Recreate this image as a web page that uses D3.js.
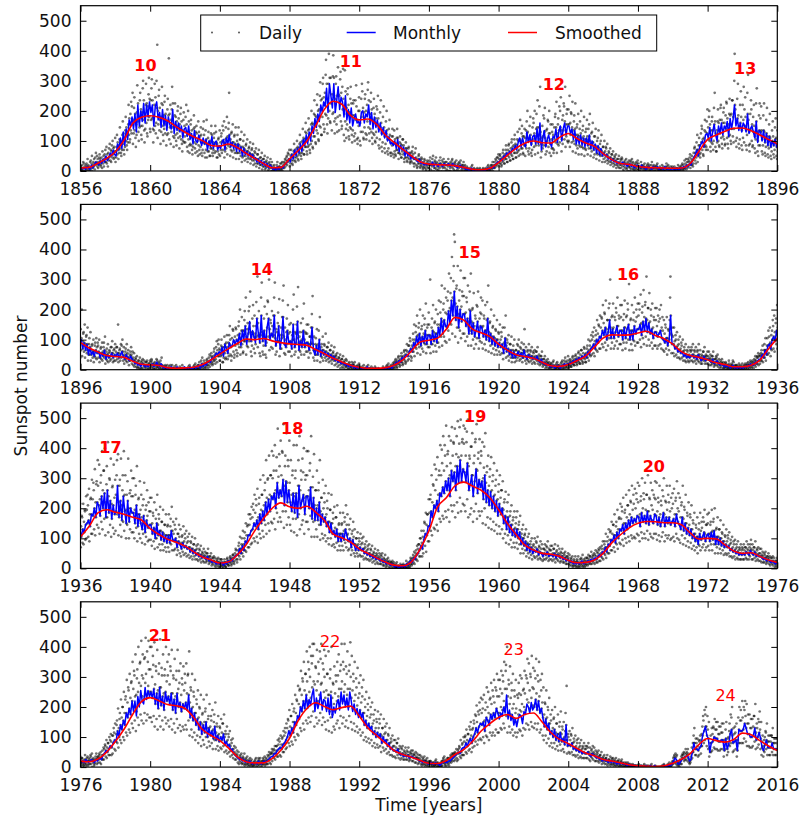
<!DOCTYPE html>
<html>
<head>
<meta charset="utf-8">
<script src="https://cdn.jsdelivr.net/npm/d3@7"></script>
<style>
  body { margin: 0; background: #fff; }
  text { font-family: "DejaVu Sans", sans-serif; }
</style>
</head>
<body>
<svg id="chart" width="802" height="827"></svg>
<script>
// ---- data -------------------------------------------------------------
const FIRST_YEAR = 1856;
const PANEL_STARTS = [1856, 1896, 1936, 1976];
const PANEL_SPAN = 40;
const X_TICK_STEP = 4;
const Y_MAX = 550;
const Y_TICKS = [0, 100, 200, 300, 400, 500];

// Solar cycle numbers and where their labels sit (year, sunspot number)
const CYCLES = [10, 11, 12, 13, 14, 15, 16, 17, 18, 19, 20, 21, 22, 23, 24];
const CYCLE_YEAR = [1859.73, 1871.52, 1883.17, 1894.16, 1906.41, 1918.34, 1927.43, 1937.72,
                    1948.15, 1958.66, 1968.91, 1980.56, 1990.34, 2000.87, 2013.03];
const CYCLE_VALUE = [352, 363, 288, 341, 334, 389, 316, 403, 465, 505, 338, 437, 418, 392, 237];

// 13-month smoothed sunspot number, every half year from 1856.0 to 2016.0
const SMOOTHED_STEP = 0.5;
const SMOOTHED = [
  10,12, 26,42, 64,103, 159,179, 184,179, 167,147, 129,114, 101,85, 83,90, 78,59,
  42,25, 11,12, 40,68, 100,150, 205,232, 222,185, 170,173, 155,120, 95,72, 50,31,
  23,21, 20,18, 12,6, 4,9, 28,52, 75,92, 100,94, 93,112, 125,108, 93,82,
  58,38, 25,22, 15,12, 11,10, 9,10, 25,65, 105,120, 132,142, 143,134, 120,105,
  90,72, 59,47, 44,41, 28,18, 16,14, 7,5, 6,8, 17,33, 52,70, 87,102,
  100,104, 96,90, 86,84, 81,67, 53,38, 26,15, 8,5, 5,7, 15,33, 62,92,
  98,105, 135,174, 165,135, 123,110, 85,65, 50,44, 38,25, 13,11, 17,30, 45,75,
  105,116, 115,116, 122,128, 114,103, 85,60, 47,41, 33,23, 17,10, 10,15, 32,70,
  105,140, 185,195, 187,180, 170,161, 132,113, 97,87, 74,55, 38,28, 18,22, 45,78,
  125,165, 200,218, 205,200, 207,187, 160,115, 102,88, 65,50, 35,21, 11,9, 22,65,
  125,205, 235,275, 287,274, 260,235, 195,150, 113,78, 61,50, 47,40, 27,19, 20,28,
  50,85, 112,135, 150,156, 155,152, 152,145, 118,98, 100,98, 78,58, 50,52, 40,28,
  20,18, 27,50, 85,126, 176,218, 231,221, 208,204, 195,165, 125,105, 88,63, 35,18,
  14,14, 28,56, 96,155, 195,214, 202,191, 198,203, 170,130, 105,80, 55,42, 33,22,
  13,12, 22,42, 58,85, 120,145, 165,175, 162,175, 180,150, 115,92, 78,62, 47,38,
  25,20, 14,8, 4,3, 2,4, 13,26, 45,75, 95,88, 83,92, 113,108, 88,70,
  55
];

// Monthly means and sampled daily values: one string per year from 1856,
// two-digit codes, sunspot number = code * CODE_UNIT.
// MONTHLY holds 12 codes a year; DAILY holds 48 sampled days a year.
const CODE_UNIT = 5;
const MONTHLY = [
  "010202010302010402040605","040705080610070912101411","101814221526172821343036","283826443040334532443646",
  "394430434634392941303727","363128412533273226302228","292330212518272019242017","221821142016231519201417",
  "151921142218241619151813","181316101511131012091108","090608050704060305020403","010200030102030204050608",
  "061108141015121813211724","182620302535293833443946","435539585042583947564149","463650344132423035383233",
  "303940323836443139283629","342632242922272023181917","201521131714161014101208","100809070608050604050405",
  "050406030504030504030504","040503040503040203040203","020102000102000100010001","000100010201020302040506",
  "060807100912111312151417","141922162218162619241723","241828183214222716212419","162322281926302028322430",
  "302528212718231824172216","221724152014181217111510","121011080907080607050605","050604050304050304020304",
  "030204020301020302010302","020301020201030201020102","010201020102020302040305","040709111410161820162425",
  "222920263124203025322430","283323352834443035273226","323026382528302622331927","262027192517231620172116",
  "201418131710151012091311","120811091307100809110810","091108101209071008060907","060405030402040302030203",
  "030402030503020402010201","000102010001020001010002","010001020001020102030104","020403050605080709111012",
  "101509171411181516201720","182416262029172432192622","183424183619261628342024","223616192914213517152618",
  "191430151832131915261518","181317281310161020091310","120911081007090607050604","050403040203020301020102",
  "010001000102000100010001","000100000100010201020103","030504060508070910091214","121815221724162218261723",
  "231726192418282334243329","283931463652334228403237","372934243924312226322129","282226203419241722162015",
  "181517112112141013081208","101209110813090710080907","080709060507040503040302","020301020302010302040304",
  "030504060507060807090810","081210141517142018222126","232820253321272125292226","262028212730202620292427",
  "273023322634253124272125","252224262120182116203617","171415121311120910080908","091008090710080607090607",
  "070605070405060403040302","030203010203010201020102","010202030204030305040607","071008131016171420221926",
  "212624293032283635403444","423548405034523745334236","385534453248383045314037","373042283630263524322729",
  "292327203022251924182217","221725191820141816131714","151314111310120910080907","080706080506040504030403",
  "030402040305040605070809","091310151218172222252630","283226363038324436463848","465040574752485942584452",
  "443850375034554045493648","484054334732403244293631","342831243023252126182318","231926221820141916121512",
  "141213101109100809070806","070605060405030403020302","010201000201020103020405","040706091012151319232228",
  "283834424045385048545058","526048655864526857725866","645870525662485866505954","584662445242514048384535",
  "433640303526342429222621","262024162015181216111410","121113091110081009110809","090810070908070806070506",
  "050405030403040304050304","040504060506070608090811","101411161519182217242026","252923302632283430333135",
  "342837313530382935323036","352934283237283430342931","332836312926342530232722","262023182116231921241822",
  "231824192516211620151814","161415121311121011091009","100911100912100911080908","080706070506050405040304",
  "030403050403040504030504","050605080911101214131618","172420282531283633393544","374434474051444253455147",
  "504652424939534147385044","474249384536494043374239","433848333931362832253022","282330202621241927182117",
  "201822151714151112090807","060506040503040304030203","030204030203040304050607","070909111213121516182024",
  "212623302834324037443948","394541485237463943503845","443746354833403642453850","424840463850443742353933",
  "383336283126292527222420","232022162017181416121311","111012090809070807080607","070606050504040304030302",
  "020302020302020102030403","030404050607080910091213","131614171916202226232729","283024333128353236333936",
  "323634403648323831352832","273235342937354240364338","404538443639332732252922","242025182217231719152814",
  "151416121311121011091009","091008070908070607050604","050405030403040303020302","030202020102010101010100",
  "010001000001000001000001","000000000001010001010102","040605020204050607070704","051016121211131421242721",
  "191016172019191717181811","191215222516171811252424","252926222220202126182023","191311151813131316121212"
];
const DAILY = [
  "000301000401000602050003000204010500030801040200030006010702051000040206030805010904120605100308",
  "020604091105080304090602130705100308110614090616051108031207150918100714061317092011150816091322",
  "061309162411191408171221291520121019142433182514112216273620291714261931442435192138274625433152",
  "183425424927382216312439573345262036294752304124213930556034472719372844583245252343345162364828",
  "264734556135472819362744583049253260428422403150542742341836264556304424203728465025383117332441",
  "482537752138294418342641562945231630223745243620173325404322352715312338422133181327203439193023",
  "193626443116241340213317122518313417271411221628371929151226183025132010331726141123162924121910",
  "142819332412180927142134091813222613191020101525301524121019142225121830132619091809132122111627",
  "101914232512203014271933091813212915223611231728325224161021142526131931091914232412182908171220",
  "241218290817122121101626061309162010152407141017180813210613091516081219051108141507111804100713",
  "051208150308051111050814020604090904071201050308080306100104020607030509000301050602040800040206",
  "000200030104000200010002040106020002010303000501020501060003020406020508030705091004071206110814",
  "030805101407110504100713180914070612091520101608071511182412191008161220281422111121162632162513",
  "112216273517281412251831402032161531233847233719183627445125402120413050592947242448365862314926",
  "285238647437583125483558784062333262458627513863773962332548355863315026366951822750376166335228",
  "305641684824382067335328224231515527442321392948562845241937274547233720254734574321341822403049",
  "402032172648365853264222213929485125402124443354592947252038284652264122183425424824382019352643",
  "224131503517281521392947321625131936274329152312183325402713211115282134241219101223172823111809",
  "271321111018142228142212081612192311180909171321211117080612091519091507061209151608120605100712",
  "061309161105080305120815090407020308051011050803020704090803050102060308070204000105030706020400",
  "020704090601040003080510040002060702050901060300050103000702050900050307040002060803050002060400",
  "060104000308050004000206000503070802050001040006050003070003010405000206000503070300010400040206",
  "000301040002000103000200000001000200000100030104000001000200000100000100000200010000000102000000",
  "000001000002000100000001020001000003010402000100030002040104020600030204060204080307050904090611",
  "030805101105080304090612140710050511081417081206061410171809130707151119211016080817122124121809",
  "091712212613201014282134112015253015231211231728221017271533254026132011153022362412181014292135",
  "321625401123172838192947122417294321562609181322301523371735264222111727132820343316254012251831",
  "102115263115241214292136381929461225183135172743194029492713213418372745432133561631233841203119",
  "412031501632243938192946132720333718284512241729311524381123172833162540112216273015233610211526",
  "142821342311172815312338201015251326193219091423112317281608122011221627150711181020142413061016",
  "160812200613091615071118051007131206091504090611110508130308051009040711020604080803051002060408",
  "020704090803050100060305070205080104020600050307030002060701040805020601000301050400020601050307",
  "010503000300020106020403000301040200050100020003010402050003010400000201040006020003010402000003",
  "000301040205000100020001030001000201040002000300010000020003050101030004000200010003000100020300",
  "000200010300010000020001020004010000030102000301040205010004020107020503080104060208030607040911",
  "020604081004070305120915160712050919142406141017221117091225193028142111102216273417261416332541",
  "142921364020311613271933361827142042315233162513132719334120321716342542442234181532233942213217",
  "183728464522351815312338482437201838284747233619286078444120321622483558371829152144325336172714",
  "442234561941304936172714245238643417261318382847412031161736264430152312214533552613201017372745",
  "173526432713211117372745261219101634254223111709153123382210160813272033231117091429213522101608",
  "271321400919142425121830081713222311172806131017211015250613101617081220051209161808132107151118",
  "160812200511081415071118061209151808132204100712140610170511081312060915071511191105081306141017",
  "061209151507113005110813140610170816122012060915041007121406101705110813080306100612091510040712",
  "080306110206040807020509010402060601040800030105060104070004020603000205010503060300010400040206",
  "010503070602040001030004050001030307020601040205000301040601030800030002000100020003010200010003",
  "000100000200000301000000030001000100000200000003000100000001000000020000000100000300010000000100",
  "000100000000010000020001030001000000010000010002000300010401000200010003000301050100020006020408",
  "010300040602040100040206070305010308051002060409110508030409061214061004071511190513091720091406",
  "061309162010150505120815221117070818132315071118092317292010150609211627261219081022162827132009",
  "112317293215244010211526351726111226193339192948102216273115243919423152251219091634254329142236",
  "112417294522346215312339241118092348365825121910163426422110160818372846452234601327203331152439",
  "291422362348365821101627122519313819294709181423281421352346355622111728102015253417264312241830",
  "122519311809142320403050201015251224183042213255081713222512193110201525341726441020152524121830",
  "241218300817132222111728183728491708132206131017211016270613101726132035051209151708132206131017",
  "160812240612091515071118051008131306101604090711120609150308061009040711020605080803061001050407",
  "070204090105030604000207020603000301000405000203010302050001030400030105010002000002000300020104",
  "000200000100000002000000030001000000010002000000030100000001000000020000000100000000000200010000",
  "000000000100000000000000000000000002000001000000010002000300010204000100000201030000020004010305",
  "010402060703050102060408090406020307050911050803040907121306100405131017120609160716122119091406",
  "081612202412183009201525291422361123172831152440102116272914223612241830341726441123172830152338",
  "301523601122172834172643122519313216244012241830371828461530233845223456163224404422335419382948",
  "183728465226396420413151613046752448365969905285224433545628426918372846532640662142325249243761",
  "492437611938294845223456163224405226396416322440412031511429223634172643214232522814213419382948",
  "371828461429223634172643132620334522345612251931321624401122172829142236102116272613203310201525",
  "241218301020152522111728071411182814213608161220180914230613101717081322051008131608122005100813",
  "130610170816122012060915071411181105081308171327120609150409071213061017051008131206091504090712",
  "110508130409071212060915040806100703050904090712050204070307050904010306020504070401030501030204",
  "010402000205030600020001030001040205010302000301000201040005020600030104010603080205010302060409",
  "010402060703050202060408090406030307050910050703040806111205080404100713130609040511081514071005",
  "051108141608122006131016190914231020152522111728091914232613203312241830291422361428213534172643",
  "153123383718284613272033331625412144336028142135183627442814213516332541381929481429223634172643",
  "173526432613203318372846281421351836274440203057132620333417264313262033381929481632244035182744",
  "183627444020305015312338422132531735264345223462163325414120315116322440361827441428213533162541",
  "163325412914223616322440341726431428213526132033122418302814213510211627261320334862362411231728",
  "221117280919142320101525081612201708132207141118160812200612091513061017051008131206091505100813",
  "061209151306101705100813120609150409071213061017051008130804061004090712120609150408061009040712",
  "090407120308061007030509040907120502040703070509080306100205040704010306020504070401030501030204",
  "010502040300020103010604000201030200040103060105000201030002030001030000020104000201030001020004",
  "000201000302000401030002040103050003010402060305010402060305010407030609020604080904081103090610",
  "040906111306101605100813170813210613101621101626112217281809142313262033291422361225193134172643",
  "142821353417264316312439381929482039304942213253183628464723365923463557522640662244345658294472",
  "552742692346355762314878265240656533508022443456683452842448376059294573214333545527426923473659",
  "254938627236557622443455592945732142325262314878254938623920304929584573402031502652406548243760",
  "482437602039304955274268183628464723365820393049341726422346355731162439214232523518274419382947",
  "381929471530233735182744132620333920304914292236331625411225193131162439122318292914223611221728",
  "291422361122172833162541122519312312182913262033180914231223182921101626081713212211172809181423",
  "201015250817132118091423071411181708132106131016160812200612091513061016051008131206091504090711",
  "100508130409071108040610051008130703050804080610050204070307050805020407010403060502040701040306",
  "010402060602040100030204060204010104030607030502020504070804060203070509090407030510081312060904",
  "061209151708132106131016201015250816122024121830112217282914223614292236331625411734264339203049",
  "183728464221325317342643472336592039304949253862214232525729447223473659603046752549386262314878",
  "306046756533508226524065743757933161477668345285316248787738599627554268753858902957447268345285",
  "572944722549386265335082244837606533508222443455723655882652406559294573326449802347365962314878",
  "623148782652406570355488214333546131477621423252522640652142325257294472193829474723365920403150",
  "442234551836284540203150163124393920304915302337331625411427213434172642122318293015233712231829",
  "301523371225193134172642142922362312182913262033180914231225193121101626081612202010152408161220",
  "180914230816122017081321061310161407111806120915130610160510081312060915040907111005081303080610",
  "090407120308061007030509030806100502040702060509040103060205040704010305000302040401030500030204",
  "000201000301000400010002000001000103000200000201000302000100020001050003000201040300020105070306",
  "020503070904071103080610120609150513101616081220082015251708132110251931301523371129223636182846",
  "183728464925386222443456552742692652406659294574254938626533508231624879703554883365508275385895",
  "346852767839608831624870854265943875588483426493346852768844689837745783944772993875588486436695",
  "834264933875588491467099346852757336568140816290623148703875588486436696336550737738598635705478",
  "753858843060466781406290295744646834527527554261663351742652405862314870254938555929456523463551",
  "562843622347365252264058203930444623355117342638442234491631243538192942142922323417263814272130",
  "341726381326202931162435102116232613202910201522231218260816121721101623071411161809142006131015",
  "160812200714111817081321061209151407111806131016100508130613101612060915071411181005081306120915",
  "120609150510081313061016040907111206091505100813090407110510081308040610040907110703050803080610",
  "070305090205040706020408010402060502040801040206050104080103020604010307060204090104020605010307",
  "020503070702050903060408080305110307050908040610030906120804061104100813120509140510081315071118",
  "061310161809142307141118211016261019152425121931122318292914223611221728311624391326203334172643",
  "163325413819294715302337392030491734264242213252183628454422345520393049432133532040315046233557",
  "442234551836284548243760204031504623355720393049492538621938294746233557214232523920304923473658",
  "462335571938294744223455183628454221325224483760361828452244345539203049224434553819294720403150",
  "432133531836284547233658204031503819294717342642442234551633254139203049153023373518274414292236",
  "341726421326203230152337122318292714213410211626301523371225193127142134163124392312182914292236",
  "301523371223182931162439122519313316254010211626271421341021162626132032102015242312182909181422",
  "211016260918142220101524081612191708132107141118160812190613101614071118061209141306101606120914",
  "130610160612091414071118061310161206091408161219130610160612091414071118051008131206091405100813",
  "100508130409071108040610040907110703050804080610070305080205040707030508020504070401030502050407",
  "010503060602040103010502080305010206040701040205060204080702050900050306040102050307050905020607",
  "030705090803061002060508110508130512091514071118061310161608122008181422170813210921162623121829",
  "112217283116243913262032361828451633254040203150183628454723365821433353512539622346355657294470",
  "265240646131477524483759653350802856436970355484316147755929457236735686623148773570548465335080",
  "653350803060467468345283275542676432497825513962693453852753416661314775254938616533508029574470",
  "613147752755426764324978254938615929457223473658643249782652406456284369244837595527426725513962",
  "562843692549386162314877214333535125396220403150472336581836284542213251163325403920304814292235",
  "361828451530233739203048132620323417264214272134311624381225193035182743122318292714213411221727",
  "261320321223182929142235102015242211172709181422201015240714111816081219061209141005081305090711",
  "080306100206040708030609020503070602050901040206050204070103020504010306010402050200010301030204",
  "010503060200030104020605010402060300020401040206050204070104020605020408020705100803060902091012",
  "040907111206091405110914140711180715121917081321071512192010152410211626231218291326203231162438",
  "142721343417264215302337392030481836284544223454214232515226406424483759572944702551396262314877",
  "572944703365508060304674346953827437578227554267663351782957447062314877367255825628436933655078",
  "603046742551396262314877244837596533508023463556552742672549386157294470316147755226406434685282",
  "572944703365508255274267316248775226406434685283603046742551396257294470244837595327416623463556",
  "492538612143335347233658183628454020315017342642381929461633254035182743142922353116243813262032",
  "301523371326203229142235102116262613203211221727231218290918142221101626081612191708132107141118",
  "140711180613101616081219061209141005081306120914090507110510081309050711051008130804061005090711",
  "090407110408060908030610030706090602050803060408050204070104020605020407010402050401030601030204",
  "000302040401030200020103030001020104020501030002030001020001020003000104010403060503070201040305",
  "010403060602050103060408070305090408060909040710050908120604091105120914130710180610081516081220",
  "081713202110162509181422221117271225193021101625132620312914223517342641301523371835274338192946",
  "183628453920304816312438432133532040315036182845234635564221325123473658432133532551396247233658",
  "234736585226406425493861572944702652406468345280234736585527426723463556512539622142325147233658",
  "392030482346355649253861244837594221325126524064492538612959457256284369255139626030467427534166",
  "522640642959457249253861295744704723365825513962432133531835274342213251163325403819294614292235",
  "311624381326203233162540122318292914223511221727301523371122172725121930102015243618285409181422",
  "201015240918142221101626081612191708132107141118160812190613101614071118061209141306101606120914",
  "120609140613101610050813040907111206091405100813090407110408061009040711030705080804061002050406",
  "070305080205040606020408010403050502040701040206050204060103020504010306010302040401030500020103",
  "040103050103000202000301000201030200010003000102000100020001000100020001000100000100010000000100",
  "010002000000010000010000000000010002000000000100000000010000000000000100000200000000000000000001",
  "000000000000000000000000000000000000010000010002000100000000000001000200000103000100020001030204",
  "020604070803060902070408010302040102000305020407020806090806100409050712050910080412060903050204",
  "030705091306101610211626160812190816121914071118081713211809142214272134311624381835274027142134",
  "251219300713101621101626112217272613203212251930251219301122172722111727122318292312182907141118",
  "122519301608121910201524291422351633254021101626112217272312182907141118331625401631243831162444",
  "331625401938294434172642142922352914223513262032261320321427213434172642122318292613203215302337",
  "251219300817132114071118102015242312182908171321170813210817132121101626081612191608121908161219"
];

// ---- layout -----------------------------------------------------------
const W = 802, H = 827;
const plotLeft = 80.5, plotRight = 777.3, plotH = 165.3;
const panelTop = i => 5.7 + i * 198.7;
const FONT = 17;

const svg = d3.select("#chart");
svg.append("rect").attr("width", W).attr("height", H).attr("fill", "#fff");

const decode = s => d3.range(0, s.length - 1, 2).map(i => +s.slice(i, i + 2) * CODE_UNIT);

// year strings -> timed points
function expand(rows) {
  const pts = [];
  rows.forEach((s, yi) => {
    const vals = decode(s);
    vals.forEach((v, k) => pts.push({ t: FIRST_YEAR + yi + (k + 0.5) / vals.length, v }));
  });
  return pts;
}
const dailyPts = expand(DAILY);
const monthlyPts = expand(MONTHLY);
const smoothPts = SMOOTHED.map((v, i) => ({ t: FIRST_YEAR + i * SMOOTHED_STEP, v }));

PANEL_STARTS.forEach((start, pi) => {
  const end = start + PANEL_SPAN;
  const top = panelTop(pi), bottom = top + plotH;
  const x = d3.scaleLinear().domain([start, end]).range([plotLeft, plotRight]);
  const y = d3.scaleLinear().domain([0, Y_MAX]).range([bottom, top]);
  const g = svg.append("g");

  const clipId = "clip" + pi;
  svg.append("clipPath").attr("id", clipId)
    .append("rect").attr("x", plotLeft).attr("y", top)
    .attr("width", plotRight - plotLeft).attr("height", plotH);
  const plot = g.append("g").attr("clip-path", `url(#${clipId})`);

  const inRange = (pad) => d => d.t >= start - pad && d.t <= end + pad;

  // daily values
  plot.append("g").selectAll("circle")
    .data(dailyPts.filter(inRange(0.1)))
    .join("circle")
    .attr("cx", d => x(d.t)).attr("cy", d => y(d.v))
    .attr("r", 1.35).attr("fill", "#000").attr("fill-opacity", 0.55);

  // monthly means
  plot.append("path")
    .datum(monthlyPts.filter(inRange(0.2)))
    .attr("fill", "none").attr("stroke", "#0000ff").attr("stroke-width", 1.5)
    .attr("stroke-linejoin", "round")
    .attr("d", d3.line().x(d => x(d.t)).y(d => y(d.v)));

  // smoothed
  plot.append("path")
    .datum(smoothPts.filter(inRange(0.6)))
    .attr("fill", "none").attr("stroke", "#ff0000").attr("stroke-width", 1.6)
    .attr("d", d3.line().curve(d3.curveMonotoneX).x(d => x(d.t)).y(d => y(d.v)));

  // axes (ticks point inward on all four sides)
  const xTicks = d3.range(start, end + 1, X_TICK_STEP);
  const styleAxis = sel => {
    sel.select(".domain").remove();
    sel.selectAll(".tick line").attr("stroke", "#000").attr("stroke-width", 1);
    sel.selectAll(".tick text").attr("fill", "#111").style("font-size", FONT + "px")
      .style("font-family", "DejaVu Sans, sans-serif");
  };
  g.append("g").attr("transform", `translate(0,${bottom})`)
    .call(d3.axisBottom(x).tickValues(xTicks).tickFormat(d3.format("d"))
      .tickSizeInner(-6).tickSizeOuter(0).tickPadding(12)).call(styleAxis);
  g.append("g").attr("transform", `translate(0,${top})`)
    .call(d3.axisTop(x).tickValues(xTicks).tickFormat(() => "")
      .tickSizeInner(-6).tickSizeOuter(0)).call(styleAxis);
  g.append("g").attr("transform", `translate(${plotLeft},0)`)
    .call(d3.axisLeft(y).tickValues(Y_TICKS).tickFormat(d3.format("d"))
      .tickSizeInner(-6).tickSizeOuter(0).tickPadding(9)).call(styleAxis);
  g.append("g").attr("transform", `translate(${plotRight},0)`)
    .call(d3.axisRight(y).tickValues(Y_TICKS).tickFormat(() => "")
      .tickSizeInner(-6).tickSizeOuter(0)).call(styleAxis);

  // frame
  g.append("rect").attr("x", plotLeft).attr("y", top)
    .attr("width", plotRight - plotLeft).attr("height", plotH)
    .attr("fill", "none").attr("stroke", "#000").attr("stroke-width", 1.2);

  // cycle numbers
  CYCLES.forEach((c, ci) => {
    const t = CYCLE_YEAR[ci];
    if (t < start || t > end) return;
    g.append("text")
      .attr("x", x(t)).attr("y", y(CYCLE_VALUE[ci]))
      .attr("text-anchor", "middle").attr("dominant-baseline", "central")
      .attr("fill", "#ff0000").style("font-size", "16px")
      .style("font-weight", c <= 21 ? "bold" : "normal")
      .text(c);
  });
});

// legend (top panel)
const lg = svg.append("g");
lg.append("rect").attr("x", 200.7).attr("y", 15).attr("width", 456).attr("height", 36)
  .attr("fill", "#fff").attr("stroke", "#000").attr("stroke-width", 1);
[212, 239].forEach(cx => lg.append("circle").attr("cx", cx).attr("cy", 32.5)
  .attr("r", 1).attr("fill", "#555"));
lg.append("text").attr("x", 259).attr("y", 39).style("font-size", FONT + "px").attr("fill", "#111").text("Daily");
lg.append("line").attr("x1", 346.7).attr("x2", 375.7).attr("y1", 32.5).attr("y2", 32.5)
  .attr("stroke", "#0000ff").attr("stroke-width", 1.5);
lg.append("text").attr("x", 393).attr("y", 39).style("font-size", FONT + "px").attr("fill", "#111").text("Monthly");
lg.append("line").attr("x1", 508).attr("x2", 537).attr("y1", 32.5).attr("y2", 32.5)
  .attr("stroke", "#ff0000").attr("stroke-width", 1.5);
lg.append("text").attr("x", 555).attr("y", 39).style("font-size", FONT + "px").attr("fill", "#111").text("Smoothed");

// axis titles
svg.append("text")
  .attr("transform", "translate(21,386) rotate(-90)")
  .attr("text-anchor", "middle").attr("dominant-baseline", "central")
  .style("font-size", FONT + "px").attr("fill", "#111").text("Sunspot number");
svg.append("text")
  .attr("x", (plotLeft + plotRight) / 2).attr("y", 811)
  .attr("text-anchor", "middle")
  .style("font-size", FONT + "px").attr("fill", "#111").text("Time [years]");
</script>
</body>
</html>
